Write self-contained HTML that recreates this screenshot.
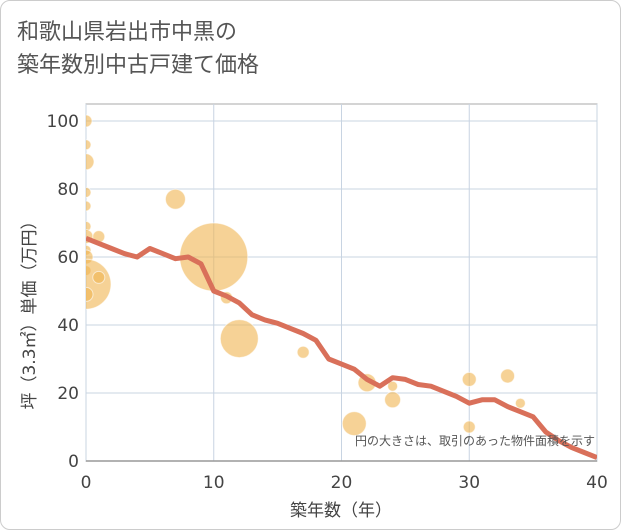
<!DOCTYPE html>
<html><head><meta charset="utf-8"><style>
html,body{margin:0;padding:0;background:#fff}
.wrap{position:relative;width:619px;height:528px;border:1px solid #ccc;border-radius:10px;background:#fff;overflow:hidden}
.title{position:absolute;left:16px;top:14px;font-family:"Liberation Sans","Noto Sans CJK JP",sans-serif;font-size:22px;line-height:33px;color:#555}
svg{position:absolute;left:0;top:0}
text{font-family:"DejaVu Sans","Noto Sans CJK JP",sans-serif}
</style></head><body>
<div class="wrap">
<div class="title">和歌山県岩出市中黒の<br>築年数別中古戸建て価格</div>
<svg id="chart" width="621" height="530"><defs><clipPath id="pc"><rect x="85" y="103" width="511" height="357"/></clipPath></defs></svg>
</div>
<script>
const xTicks=[0,10,20,30,40];
const yTicks=[0,20,40,60,80,100];
const lineX=[0,1,2,3,4,5,6,7,8,9,10,11,12,13,14,15,16,17,18,19,20,21,22,23,24,25,26,27,28,29,30,31,32,33,34,35,36,37,38,39,40];
const lineY=[65.5,64,62.5,61,60,62.5,61,59.5,60,58,50,48.5,46.5,43,41.5,40.5,39,37.5,35.5,30,28.5,27,24,22,24.5,24,22.5,22,20.5,19,17,18,18,16,14.5,13,8.5,6,4,2.5,1];
const bubX=[0,0,0,0,0,0,0,0,0,0,0,0,1,1,7,10,11,12,17,21,22,24,24,30,30,33,34];
const bubY=[100,93,88,79,75,69,66,62,60,56,52,49,66,54,77,60,48,36,32,11,23,22,18,24,10,25,17];
const bubR=[6,5,8,5,5,5,7,5,7,5,25,7,6,6,10,34,6,19,6,12,9,5,8,7,6,7,5];
const L=85,R=596,T=103,B=460;
const sx=v=>L+(v/40)*(R-L);
const sy=v=>460-v*3.4;
const svg=document.getElementById('chart');
const NS='http://www.w3.org/2000/svg';
function mk(t,a,parent){const e=document.createElementNS(NS,t);for(const k in a)e.setAttribute(k,a[k]);(parent||svg).appendChild(e);return e;}
let bg=mk('rect',{x:L,y:T,width:R-L,height:B-T,fill:'#fff',stroke:'#aaa'});


xTicks.forEach(v=>{
 const g=mk('line',{x1:sx(v),x2:sx(v),y1:T,y2:B,stroke:'#c8d4e2','stroke-width':1});
 
 
 const t=mk('text',{x:sx(v),y:487,'text-anchor':'middle','font-size':17,fill:'#444'});t.textContent=v;
 
 
});
yTicks.forEach(v=>{
 const g=mk('line',{x1:L,x2:R,y1:sy(v),y2:sy(v),stroke:'#c8d4e2','stroke-width':1});
 
 
 const t=mk('text',{x:78,y:sy(v)+6,'text-anchor':'end','font-size':17,fill:'#444'});t.textContent=v;
 
 
});
const grp=mk('g',{'clip-path':'url(#pc)'});


bubX.forEach((v,i)=>{
 const c=mk('circle',{cx:sx(v),cy:sy(bubY[i]),r:bubR[i],fill:'rgba(240,180,80,0.6)',stroke:'rgba(255,255,255,0.6)','stroke-width':1},grp);
 
 
});
const p=mk('polyline',{points:lineX.map((v,i)=>sx(v)+','+sy(lineY[i])).join(' '),fill:'none',stroke:'#d9705a','stroke-width':5,'stroke-linejoin':'round'},grp);


const ax=mk('line',{x1:L,x2:R,y1:B,y2:B,stroke:'#999','stroke-width':1.5});


const note=mk('text',{x:594,y:444,'text-anchor':'end','font-size':12,fill:'#555'});note.textContent='円の大きさは、取引のあった物件面積を示す';


const xt=mk('text',{x:340,y:515,'text-anchor':'middle','font-size':17,fill:'#444'});xt.textContent='築年数（年）';


const yt=mk('text',{x:0,y:0,'text-anchor':'middle','font-size':17,fill:'#444',transform:'translate(34,310) rotate(-90)'});yt.textContent='坪（3.3㎡）単価（万円）';


</script>
</body></html>
